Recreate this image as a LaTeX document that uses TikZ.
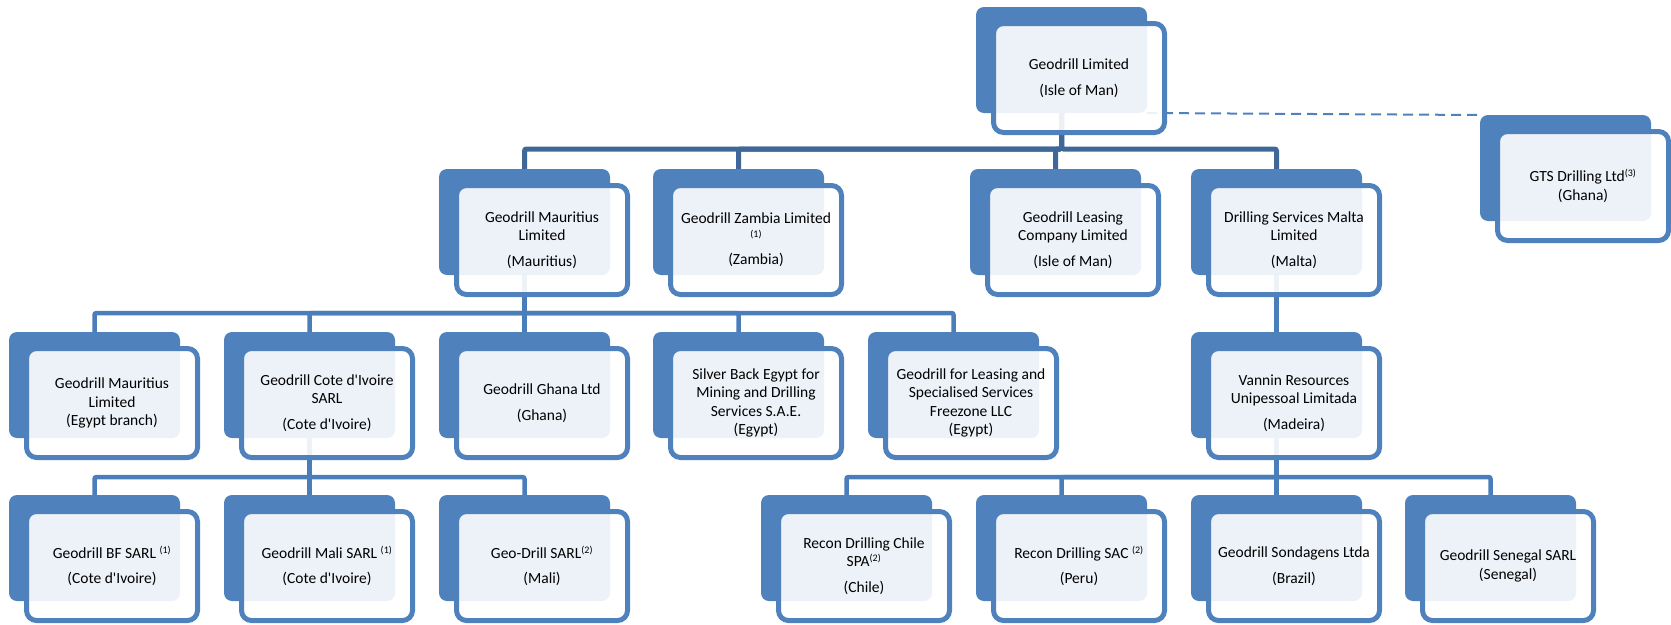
\documentclass[tikz,border=0pt]{standalone}
\usepackage{fontspec}
\setmainfont{Carlito}
\usetikzlibrary{calc}
\definecolor{cardblue}{HTML}{4F81BD}
\definecolor{topline}{HTML}{3F6899}
\definecolor{subline}{HTML}{4A7EBB}
\pgfdeclarelayer{bg}
\pgfsetlayers{bg,main}
\tikzset{
  backcard/.style={fill=cardblue, draw=none, rounded corners=8pt, minimum width=171pt, minimum height=106pt, inner sep=0pt, outer sep=0pt},
  frontcard/.style={fill=white, fill opacity=0.9, text opacity=1, draw=cardblue, draw opacity=1, line width=5pt, rounded corners=10pt, minimum width=171pt, minimum height=109pt, inner sep=0pt, outer sep=0pt, align=center, font=\fontsize{15.5}{18.5}\selectfont},
  topconn/.style={draw=topline, line width=5pt, rounded corners=2pt},
  subconn/.style={draw=subline, line width=4.5pt, rounded corners=2pt},
  linkdash/.style={draw=cardblue, line width=2pt, dash pattern=on 10pt off 6pt},
}
\newcommand{\orgcard}[4]{%
  \node[backcard] (#1-b) at (#2+85.5, #3+53) {};
  \node[frontcard] (#1) at (#2+103, #3+71) {#4};
}
\newcommand{\sups}[1]{\textsuperscript{\fontsize{10}{12}\selectfont(#1)}}
\newcommand{\ap}{\textquotesingle}
\begin{document}
\begin{tikzpicture}[x=1pt,y=-1pt]
\useasboundingbox (0,0) rectangle (1671,624);
% row 0
\orgcard{top}{976}{7}{Geodrill Limited\\[7pt](Isle of Man)}
\orgcard{gts}{1480}{115}{GTS Drilling Ltd\sups{3}\\(Ghana)}
% row 1
\orgcard{mau}{439}{169}{Geodrill Mauritius\\Limited\\[7pt](Mauritius)}
\orgcard{zam}{653}{169}{Geodrill Zambia Limited\\[-5pt]{\fontsize{10}{12}\selectfont(1)}\\[9pt](Zambia)}
\orgcard{lea}{970}{169}{Geodrill Leasing\\Company Limited\\[7pt](Isle of Man)}
\orgcard{mal}{1191}{169}{Drilling Services Malta\\Limited\\[7pt](Malta)}
% row 2
\orgcard{egb}{9}{332}{Geodrill Mauritius\\Limited\\(Egypt branch)}
\orgcard{cdi}{224}{332}{Geodrill Cote d\ap Ivoire\\SARL\\[7pt](Cote d\ap Ivoire)}
\orgcard{gha}{439}{332}{Geodrill Ghana Ltd\\[7pt](Ghana)}
\orgcard{sbe}{653}{332}{Silver Back Egypt for\\Mining and Drilling\\Services S.A.E.\\(Egypt)}
\orgcard{gfl}{868}{332}{Geodrill for Leasing and\\Specialised Services\\Freezone LLC\\(Egypt)}
\orgcard{van}{1191}{332}{Vannin Resources\\Unipessoal Limitada\\[7pt](Madeira)}
% row 3
\orgcard{bf}{9}{495}{Geodrill BF SARL \sups{1}\\[7pt](Cote d\ap Ivoire)}
\orgcard{mali}{224}{495}{Geodrill Mali SARL \sups{1}\\[7pt](Cote d\ap Ivoire)}
\orgcard{geo}{439}{495}{Geo-Drill SARL\sups{2}\\[7pt](Mali)}
\orgcard{chi}{761}{495}{Recon Drilling Chile\\SPA\sups{2}\\[7pt](Chile)}
\orgcard{sac}{976}{495}{Recon Drilling SAC \sups{2}\\[7pt](Peru)}
\orgcard{son}{1191}{495}{Geodrill Sondagens Ltda\\[7pt](Brazil)}
\orgcard{sen}{1405}{495}{Geodrill Senegal SARL\\(Senegal)}
\begin{pgfonlayer}{bg}
  \coordinate (bus1) at (0,149);
  \coordinate (bus2) at (0,313);
  \coordinate (bus3) at (0,477);
  \foreach \c in {mau,zam,lea,mal}
    \draw[topconn] (top-b.center) -- (top-b.center |- bus1) -| (\c-b.north);
  \foreach \c in {egb,cdi,gha,sbe,gfl}
    \draw[subconn] (mau-b.center) -- (mau-b.center |- bus2) -| (\c-b.north);
  \foreach \c in {bf,mali,geo}
    \draw[subconn] (cdi-b.center) -- (cdi-b.center |- bus3) -| (\c-b.north);
  \foreach \c in {chi,sac,son,sen}
    \draw[subconn] (van-b.center) -- (van-b.center |- bus3) -| (\c-b.north);
  \draw[subconn] (mal-b.center) -- (van-b.north);
  \draw[linkdash] (top-b.south east) -- (gts-b.north west);
\end{pgfonlayer}
\end{tikzpicture}
\end{document}
